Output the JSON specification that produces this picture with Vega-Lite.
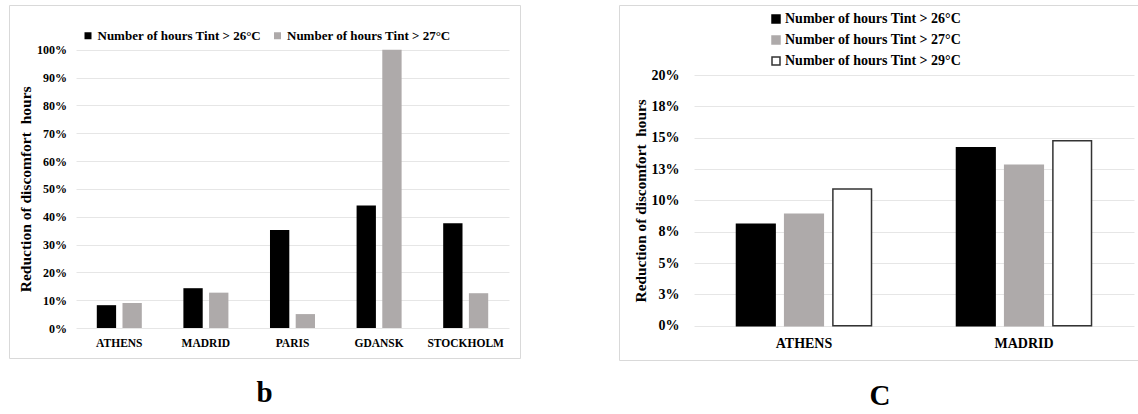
{
  "$schema": "https://vega.github.io/schema/vega-lite/v6.json",
  "background": "white",
  "padding": {"left": 8, "top": 4, "right": 0, "bottom": 0},
  "spacing": 97,
  "config": {
    "font": "Liberation Serif",
    "view": {"stroke": "#d9d9d9", "strokeWidth": 1},
    "axis": {
      "labelFont": "Liberation Serif",
      "labelFontWeight": "bold",
      "labelColor": "#000000",
      "titleFont": "Liberation Serif",
      "titleFontWeight": "bold",
      "titleColor": "#000000",
      "domain": false,
      "ticks": false,
      "tickSize": 0,
      "labelPadding": 0,
      "labelOverlap": false,
      "gridColor": "#e6e6e6",
      "gridWidth": 1
    },
    "legend": {
      "labelFont": "Liberation Serif",
      "labelFontWeight": "bold",
      "labelColor": "#000000",
      "labelLimit": 400,
      "symbolType": "square",
      "labelOffset": 3,
      "padding": 0
    },
    "title": {
      "font": "Liberation Serif",
      "fontWeight": "bold",
      "color": "#000000",
      "orient": "bottom",
      "anchor": "middle"
    }
  },
  "hconcat": [
    {
      "width": 511,
      "height": 353,
      "title": {"text": "b", "fontSize": 29, "offset": 21},
      "data": {
        "values": [
          {"city": "ATHENS", "series": "Number of hours Tint > 26°C", "pct": 8.2},
          {"city": "ATHENS", "series": "Number of hours Tint > 27°C", "pct": 9.0},
          {"city": "MADRID", "series": "Number of hours Tint > 26°C", "pct": 14.3},
          {"city": "MADRID", "series": "Number of hours Tint > 27°C", "pct": 12.7},
          {"city": "PARIS", "series": "Number of hours Tint > 26°C", "pct": 35.2},
          {"city": "PARIS", "series": "Number of hours Tint > 27°C", "pct": 5.0},
          {"city": "GDANSK", "series": "Number of hours Tint > 26°C", "pct": 44.0},
          {"city": "GDANSK", "series": "Number of hours Tint > 27°C", "pct": 100},
          {"city": "STOCKHOLM", "series": "Number of hours Tint > 26°C", "pct": 37.6},
          {"city": "STOCKHOLM", "series": "Number of hours Tint > 27°C", "pct": 12.5}
        ]
      },
      "encoding": {
        "x": {
          "field": "city",
          "type": "nominal",
          "sort": ["ATHENS", "MADRID", "PARIS", "GDANSK", "STOCKHOLM"],
          "scale": {"range": [67, 500], "paddingInner": 0.48, "paddingOuter": 0.24},
          "axis": {"title": null, "labelAngle": 0, "labelFontSize": 11.5, "labelBaseline": "middle", "offset": -14.3, "grid": false}
        },
        "y": {
          "field": "pct",
          "type": "quantitative",
          "scale": {"domain": [0, 100], "range": [323, 44.7], "nice": false},
          "axis": {
            "title": "Reduction of discomfort\u00a0 hours",
            "values": [0, 10, 20, 30, 40, 50, 60, 70, 80, 90, 100],
            "labelExpr": "datum.value + '%'",
            "labelFontSize": 12,
            "titleFontSize": 15.5,
            "offset": -57.4,
            "titlePadding": 3,
            "grid": true
          }
        },
        "color": {
          "field": "series",
          "type": "nominal",
          "scale": {
            "domain": ["Number of hours Tint > 26°C", "Number of hours Tint > 27°C"],
            "range": ["#000000", "#aeaaaa"]
          },
          "legend": {
            "title": null,
            "orient": "none",
            "direction": "horizontal",
            "legendX": 72.5,
            "legendY": 24,
            "labelFontSize": 13,
            "symbolSize": 49,
            "columnPadding": 9.5
          }
        }
      },
      "layer": [
        {
          "transform": [{"filter": {"field": "series", "equal": "Number of hours Tint > 26°C"}}],
          "mark": {"type": "bar", "width": {"band": 0.429}, "xOffset": -12.85}
        },
        {
          "transform": [{"filter": {"field": "series", "equal": "Number of hours Tint > 27°C"}}],
          "mark": {"type": "bar", "width": {"band": 0.429}, "xOffset": 12.85}
        }
      ]
    },
    {
      "width": 522,
      "height": 355,
      "title": {"text": "C", "fontSize": 29, "offset": 22},
      "data": {
        "values": [
          {"city": "ATHENS", "series": "Number of hours Tint > 26°C", "pct": 8.1},
          {"city": "ATHENS", "series": "Number of hours Tint > 27°C", "pct": 8.9},
          {"city": "ATHENS", "series": "Number of hours Tint > 29°C", "pct": 10.9},
          {"city": "MADRID", "series": "Number of hours Tint > 26°C", "pct": 14.2},
          {"city": "MADRID", "series": "Number of hours Tint > 27°C", "pct": 12.8},
          {"city": "MADRID", "series": "Number of hours Tint > 29°C", "pct": 14.75}
        ]
      },
      "encoding": {
        "x": {
          "field": "city",
          "type": "nominal",
          "sort": ["ATHENS", "MADRID"],
          "scale": {"range": [75, 515], "paddingInner": 0.386, "paddingOuter": 0.193},
          "axis": {"title": null, "labelAngle": 0, "labelFontSize": 14, "labelBaseline": "middle", "offset": -16.3, "grid": false}
        },
        "y": {
          "field": "pct",
          "type": "quantitative",
          "scale": {"domain": [0, 20], "range": [320.7, 70], "nice": false},
          "axis": {
            "title": "Reduction of discomfort\u00a0 hours",
            "values": [0, 2.5, 5, 7.5, 10, 12.5, 15, 17.5, 20],
            "labelExpr": "round(datum.value) + '%'",
            "labelFontSize": 14,
            "titleFontSize": 15.3,
            "offset": -60,
            "titlePadding": 3,
            "grid": true
          }
        },
        "fill": {
          "field": "series",
          "type": "nominal",
          "scale": {
            "domain": ["Number of hours Tint > 26°C", "Number of hours Tint > 27°C", "Number of hours Tint > 29°C"],
            "range": ["#000000", "#aeaaaa", "#ffffff"]
          },
          "legend": {
            "title": null,
            "orient": "none",
            "direction": "vertical",
            "legendX": 760,
            "legendY": 7,
            "labelFontSize": 14,
            "labelOffset": 2,
            "symbolSize": 64,
            "symbolStrokeWidth": 1.5,
            "rowPadding": 7
          }
        },
        "stroke": {
          "field": "series",
          "type": "nominal",
          "scale": {
            "domain": ["Number of hours Tint > 26°C", "Number of hours Tint > 27°C", "Number of hours Tint > 29°C"],
            "range": ["#000000", "#aeaaaa", "#333333"]
          },
          "legend": {
            "title": null,
            "orient": "none",
            "direction": "vertical",
            "legendX": 760,
            "legendY": 7,
            "labelFontSize": 14,
            "labelOffset": 2,
            "symbolSize": 64,
            "symbolStrokeWidth": 1.5,
            "rowPadding": 7
          }
        }
      },
      "layer": [
        {
          "transform": [{"filter": {"field": "series", "equal": "Number of hours Tint > 26°C"}}],
          "mark": {"type": "bar", "strokeWidth": 1.5, "width": {"band": 0.286}, "xOffset": -48.2}
        },
        {
          "transform": [{"filter": {"field": "series", "equal": "Number of hours Tint > 27°C"}}],
          "mark": {"type": "bar", "strokeWidth": 1.5, "width": {"band": 0.286}}
        },
        {
          "transform": [{"filter": {"field": "series", "equal": "Number of hours Tint > 29°C"}}],
          "mark": {"type": "bar", "strokeWidth": 1.5, "width": {"band": 0.286}, "xOffset": 48.2}
        }
      ]
    }
  ]
}
